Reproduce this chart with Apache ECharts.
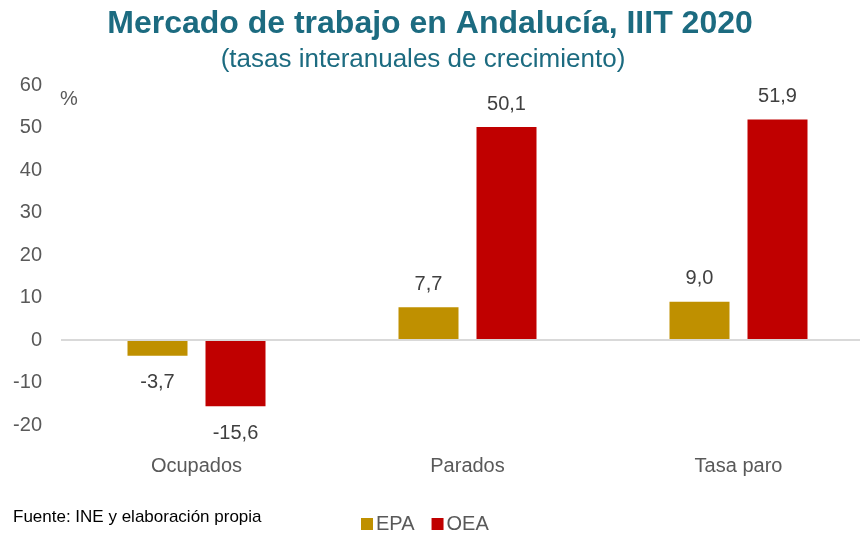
<!DOCTYPE html>
<html>
<head>
<meta charset="utf-8">
<script src="https://cdn.jsdelivr.net/npm/echarts@6/dist/echarts.min.js"></script>
<style>
  html, body { margin: 0; padding: 0; background: #fff; overflow: hidden; }
  /* chart is a bit wider than the window so the last category can run past the edge */
  #chart { width: 874px; height: 536px; }
</style>
</head>
<body>
<div id="chart"></div>
<script>
const categories = ['Ocupados', 'Parados', 'Tasa paro']
const epaValues = [-3.7, 7.7, 9.0]
const oeaValues = [-15.6, 50.1, 51.9]
const yTicks = { min: -20, max: 60, interval: 10 }

const fmt = v => v.toFixed(1).replace('.', ',')

const makeData = (values) => values.map(v => ({
  value: v,
  label: { position: v < 0 ? 'bottom' : 'top', distance: v < 0 ? 17 : 13 },
}))

const chart = echarts.init(document.getElementById('chart'))

chart.setOption({
  backgroundColor: '#fff',
  animation: false,
  textStyle: { fontFamily: 'Liberation Sans, Arial, sans-serif' },
  legend: {
    left: 356,
    top: 509,
    icon: 'rect',
    itemWidth: 12,
    itemHeight: 12,
    itemGap: 17,
    textStyle: { color: '#595959', fontSize: 20, padding: [0, 0, 0, -2] },
    data: ['EPA', 'OEA'],
  },
  graphic: [
    {
      type: 'text',
      x: 430,
      y: 24,
      style: {
        text: 'Mercado de trabajo en Andalucía, IIIT 2020',
        fill: '#1C6B80',
        font: 'bold 32px "Liberation Sans", Arial',
        textAlign: 'center',
        textVerticalAlign: 'middle',
      },
    },
    {
      type: 'text',
      x: 423,
      y: 60,
      style: {
        text: '(tasas interanuales de crecimiento)',
        fill: '#1C6B80',
        font: '26px "Liberation Sans", Arial',
        textAlign: 'center',
        textVerticalAlign: 'middle',
      },
    },
    {
      type: 'text',
      left: 60,
      top: 89,
      style: { text: '%', fill: '#595959', font: '20px "Liberation Sans", Arial' },
    },
    {
      type: 'text',
      left: 13,
      top: 509,
      style: { text: 'Fuente: INE y elaboración propia', fill: '#000', font: '17px "Liberation Sans", Arial' },
    },
  ],
  grid: { left: 61, top: 85, width: 813, height: 340 },
  xAxis: {
    type: 'category',
    data: categories,
    axisLine: { show: false },
    axisTick: { show: false },
    axisLabel: { color: '#595959', fontSize: 20, margin: 31 },
  },
  yAxis: {
    type: 'value',
    min: yTicks.min,
    max: yTicks.max,
    interval: yTicks.interval,
    axisLine: { show: false },
    axisTick: { show: false },
    splitLine: { show: false },
    axisLabel: { color: '#595959', fontSize: 20, margin: 19 },
  },
  series: [
    {
      name: 'EPA',
      type: 'bar',
      barWidth: 60,
      barGap: '30%',
      itemStyle: { color: '#BF9000' },
      label: { show: true, color: '#404040', fontSize: 20, formatter: p => fmt(p.value) },
      data: makeData(epaValues),
      markLine: {
        silent: true,
        symbol: 'none',
        label: { show: false },
        lineStyle: { color: '#D9D9D9', width: 2, type: 'solid' },
        data: [{ yAxis: 0 }],
      },
    },
    {
      name: 'OEA',
      type: 'bar',
      barWidth: 60,
      barGap: '30%',
      itemStyle: { color: '#C00000' },
      label: { show: true, color: '#404040', fontSize: 20, formatter: p => fmt(p.value) },
      data: makeData(oeaValues),
    },
  ],
})
</script>
</body>
</html>
